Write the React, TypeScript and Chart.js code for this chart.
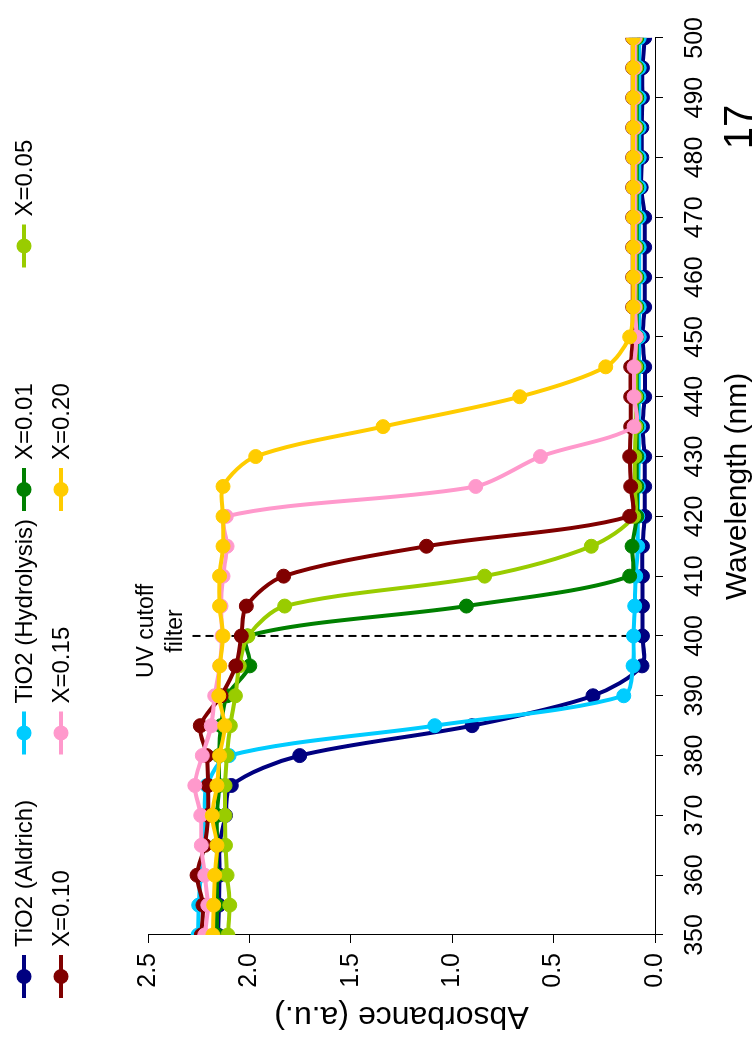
import React, { useEffect, useRef } from "react";
import { Chart, registerables } from "chart.js";

Chart.register(...registerables);

// Wavelength grid (nm), one reading every 5 nm
const wavelengths = [
  350, 355, 360, 365, 370, 375, 380, 385, 390, 395, 400, 405, 410, 415, 420, 425,
  430, 435, 440, 445, 450, 455, 460, 465, 470, 475, 480, 485, 490, 495, 500,
];

const seriesLabels = [
  "TiO2 (Aldrich)",
  "TiO2 (Hydrolysis)",
  "X=0.01",
  "X=0.05",
  "X=0.10",
  "X=0.15",
  "X=0.20",
];

const seriesColors = ["#000080", "#00CCFF", "#008000", "#99CC00", "#800000", "#FF99CC", "#FFCC00"];

// Absorbance (a.u.) per series
const aldrich = [
  2.155, 2.15, 2.147, 2.147, 2.118, 2.089, 1.752, 0.902, 0.306, 0.064, 0.062, 0.062, 0.062, 0.062,
  0.051, 0.051, 0.051, 0.062, 0.051, 0.051, 0.062, 0.051, 0.051, 0.051, 0.051, 0.068, 0.065, 0.065,
  0.062, 0.062, 0.051,
];
const hydrolysis = [
  2.253, 2.25, 2.24, 2.23, 2.22, 2.21, 2.1, 1.086, 0.154, 0.108, 0.106, 0.1, 0.095, 0.085, 0.085,
  0.082, 0.08, 0.08, 0.08, 0.08, 0.078, 0.078, 0.078, 0.078, 0.078, 0.078, 0.078, 0.078, 0.078,
  0.078, 0.078,
];
const x001 = [
  2.16, 2.16, 2.16, 2.16, 2.16, 2.15, 2.15, 2.14, 2.11, 1.998, 2.01, 0.93, 0.125, 0.113, 0.09, 0.09,
  0.09, 0.09, 0.09, 0.09, 0.09, 0.09, 0.09, 0.09, 0.09, 0.09, 0.09, 0.09, 0.09, 0.09, 0.09,
];
const x005 = [
  2.106, 2.097, 2.11, 2.118, 2.12, 2.12, 2.11, 2.094, 2.069, 2.05, 2.007, 1.826, 0.84, 0.314, 0.105,
  0.1, 0.1, 0.095, 0.095, 0.095, 0.095, 0.095, 0.095, 0.095, 0.095, 0.095, 0.095, 0.095, 0.095,
  0.095, 0.095,
];
const x010 = [
  2.237, 2.229, 2.258, 2.22, 2.204, 2.204, 2.21, 2.242, 2.14, 2.067, 2.04, 2.015, 1.831, 1.127, 0.125,
  0.12, 0.125, 0.12, 0.12, 0.12, 0.11, 0.11, 0.11, 0.11, 0.11, 0.11, 0.11, 0.11, 0.11, 0.11, 0.11,
];
const x015 = [
  2.22, 2.205, 2.22, 2.237, 2.24, 2.269, 2.232, 2.188, 2.171, 2.146, 2.135, 2.14, 2.13, 2.11, 2.114,
  0.884, 0.565, 0.103, 0.103, 0.103, 0.092, 0.1, 0.1, 0.1, 0.1, 0.1, 0.1, 0.1, 0.1, 0.1, 0.1,
];
const x020 = [
  2.18, 2.176, 2.171, 2.16, 2.183, 2.16, 2.147, 2.122, 2.151, 2.146, 2.13, 2.147, 2.147, 2.13, 2.13,
  2.13, 1.969, 1.341, 0.667, 0.243, 0.125, 0.108, 0.108, 0.108, 0.108, 0.108, 0.108, 0.108, 0.108,
  0.108, 0.108,
];

const seriesValues = [aldrich, hydrolysis, x001, x005, x010, x015, x020];

// UV cutoff filter marker: vertical dashed line at 400 nm
const cutoffWavelength = 400;
const cutoffSpan = [2.28, 0.1];
const cutoffText = ["UV cutoff", "filter"];

const pageNumber = "17";

const FONT = '"Liberation Sans", Arial, Helvetica, sans-serif';

const decorPlugin = {
  id: "decor",
  afterDraw(chart: any) {
    const ctx = chart.ctx as CanvasRenderingContext2D;
    ctx.save();

    // legend in a four-column grid
    ctx.font = `24px ${FONT}`;
    ctx.textBaseline = "middle";
    ctx.textAlign = "left";
    seriesLabels.forEach((label, i) => {
      const col = i % 4;
      const row = Math.floor(i / 4);
      const x0 = 48 + col * 243.5;
      const y0 = 24 + row * 37;
      ctx.strokeStyle = seriesColors[i];
      ctx.lineWidth = 4;
      ctx.beginPath();
      ctx.moveTo(x0, y0);
      ctx.lineTo(x0 + 43, y0);
      ctx.stroke();
      ctx.fillStyle = seriesColors[i];
      ctx.beginPath();
      ctx.arc(x0 + 21.5, y0, 7.5, 0, Math.PI * 2);
      ctx.fill();
      ctx.fillStyle = "#000";
      ctx.fillText(label, x0 + 51, y0 + 1);
    });

    // cutoff annotation
    const xs = chart.scales.x;
    const ys = chart.scales.y;
    const cx = xs.getPixelForValue(cutoffWavelength) + 5;
    const top = ys.getPixelForValue(2.5);
    ctx.font = `23px ${FONT}`;
    ctx.textAlign = "center";
    ctx.textBaseline = "alphabetic";
    ctx.fillStyle = "#000";
    ctx.fillText(cutoffText[0], cx, top + 5);
    ctx.fillText(cutoffText[1], cx, top + 34);

    // page number
    ctx.font = `40px ${FONT}`;
    ctx.fillText(pageNumber, 919, 752);

    ctx.restore();
  },
};

export default function App() {
  const canvasRef = useRef<HTMLCanvasElement | null>(null);

  useEffect(() => {
    const canvas = canvasRef.current;
    if (!canvas) return;

    const datasets: any[] = seriesValues.map((vals, i) => ({
      label: seriesLabels[i],
      data: wavelengths.map((w, j) => ({ x: w, y: vals[j] })),
      borderColor: seriesColors[i],
      backgroundColor: seriesColors[i],
      pointBackgroundColor: seriesColors[i],
      pointBorderColor: seriesColors[i],
      pointBorderWidth: 1,
      pointRadius: 7,
      borderWidth: 4,
      tension: 0.3,
      order: 10 - i,
    }));

    datasets.push({
      label: "UV cutoff",
      data: cutoffSpan.map((v) => ({ x: cutoffWavelength, y: v })),
      borderColor: "#000",
      borderWidth: 2,
      borderDash: [8, 5],
      pointRadius: 0,
      tension: 0,
      order: 100,
    });

    const chart = new Chart(canvas, {
      type: "line",
      data: { datasets },
      plugins: [decorPlugin],
      options: {
        responsive: false,
        animation: false,
        events: [],
        layout: { padding: { top: 148, right: 22, left: 0, bottom: 0 } },
        plugins: {
          legend: { display: false },
          tooltip: { enabled: false },
        },
        scales: {
          x: {
            type: "linear",
            min: 350,
            max: 500,
            afterFit: (s: any) => {
              s.height = 97;
            },
            ticks: {
              stepSize: 10,
              autoSkip: false,
              maxRotation: 0,
              color: "#000",
              padding: 17,
              font: { family: FONT, size: 25 },
            },
            grid: { drawOnChartArea: false, drawTicks: true, tickLength: 8, color: "#000" },
            border: { display: true, color: "#000", width: 1 },
            title: {
              display: true,
              text: "Wavelength (nm)",
              color: "#000",
              font: { family: FONT, size: 30, lineHeight: 1 },
              padding: { top: 0, bottom: -1 },
            },
          },
          y: {
            type: "linear",
            min: 0,
            max: 2.5,
            afterFit: (s: any) => {
              s.width = 111;
            },
            ticks: {
              stepSize: 0.5,
              color: "#000",
              padding: 10,
              font: { family: FONT, size: 25 },
              callback: (v: any) => Number(v).toFixed(1),
            },
            grid: { drawOnChartArea: false, drawTicks: true, tickLength: 8, color: "#000" },
            border: { display: true, color: "#000", width: 1 },
            title: {
              display: true,
              text: "Absorbance (a.u.)",
              color: "#000",
              font: { family: FONT, size: 32, lineHeight: 1 },
              padding: { top: 14, bottom: 0 },
            },
          },
        },
      },
    });

    return () => chart.destroy();
  }, []);

  return (
    <div
      style={{
        position: "fixed",
        left: 0,
        top: 0,
        width: 752,
        height: 1046,
        overflow: "hidden",
        background: "#fff",
      }}
    >
      <canvas
        ref={canvasRef}
        width={1046}
        height={752}
        style={{
          position: "absolute",
          left: 0,
          top: 0,
          width: 1046,
          height: 752,
          transformOrigin: "0 0",
          transform: "translate(0px, 1046px) rotate(-90deg)",
        }}
      />
    </div>
  );
}
